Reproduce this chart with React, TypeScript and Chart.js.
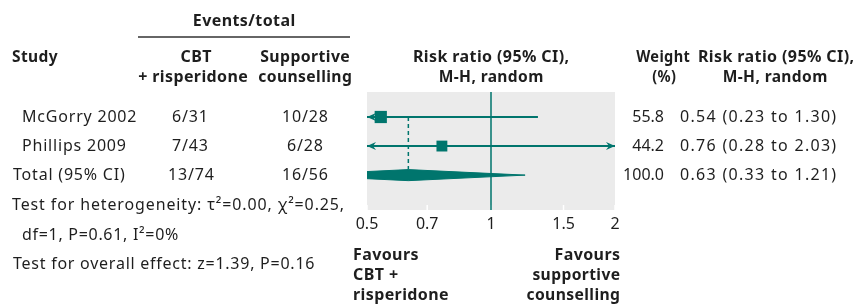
import React, { useEffect, useRef } from "react";
import { Chart, registerables } from "chart.js";

Chart.register(...registerables);

// ---- data ----
const STUDIES = ["McGorry 2002", "Phillips 2009"];
const CBT_EVENTS = ["6/31", "7/43"];
const SUP_EVENTS = ["10/28", "6/28"];
const RR = [0.54, 0.76];
const RR_LO = [0.23, 0.28];
const RR_HI = [1.3, 2.03];
const WEIGHTS = [55.8, 44.2];
const TOTAL_LABEL = "Total (95% CI)";
const TOTAL_CBT = "13/74";
const TOTAL_SUP = "16/56";
const TOTAL_RR = 0.63;
const TOTAL_LO = 0.33;
const TOTAL_HI = 1.21;
const TOTAL_WEIGHT = "100.0";
const X_TICKS = [0.5, 0.7, 1, 1.5, 2];

const TEAL = "#00756d";
const GRAY = "#ebebeb";
const TXT = "#1e1e1e";
const FONT = "'Noto Sans', sans-serif";

const fmt = (v: number) => v.toFixed(2);

export default function App() {
  const ref = useRef<HTMLCanvasElement | null>(null);

  useEffect(() => {
    document.body.style.margin = "0";
    const canvas = ref.current;
    if (!canvas) return;

    const rows = STUDIES.map((_, i) => i + 1);
    const totalRow = STUDIES.length + 1;
    const diamondHalf = 0.19;

    const ciSets = STUDIES.map((s, i) => ({
      label: s + " CI",
      data: [
        { x: RR_LO[i], y: rows[i] },
        { x: RR_HI[i], y: rows[i] },
      ],
      showLine: true,
      borderColor: TEAL,
      borderWidth: 2,
      pointRadius: 0,
    }));
    const squareSets = STUDIES.map((s, i) => ({
      label: s,
      data: [{ x: RR[i], y: rows[i] }],
      pointStyle: "rect",
      pointRadius: 4 + WEIGHTS[i] / 12,
      backgroundColor: TEAL,
      borderColor: TEAL,
      borderWidth: 0,
      showLine: false,
    }));

    const bgPlugin = {
      id: "bg",
      beforeDraw(chart: any) {
        const { ctx, chartArea: a } = chart;
        ctx.save();
        ctx.fillStyle = GRAY;
        ctx.fillRect(a.left, a.top, a.right - a.left, a.bottom - a.top);
        ctx.strokeStyle = "#ffffff";
        ctx.lineWidth = 1.5;
        const xs = chart.scales.x;
        X_TICKS.forEach((t) => {
          const px = xs.getPixelForValue(t);
          ctx.beginPath();
          ctx.moveTo(px, a.bottom - 5);
          ctx.lineTo(px, a.bottom);
          ctx.stroke();
        });
        ctx.restore();
      },
    };

    const arrowPlugin = {
      id: "arrows",
      afterDatasetsDraw(chart: any) {
        const { ctx, chartArea: a } = chart;
        const xs = chart.scales.x;
        const ys = chart.scales.y;
        const min = xs.min;
        const max = xs.max;
        ctx.save();
        ctx.fillStyle = TEAL;
        const arrow = (px: number, py: number, dir: number) => {
          ctx.beginPath();
          ctx.moveTo(px, py);
          ctx.lineTo(px - dir * 9, py - 4);
          ctx.lineTo(px - dir * 6, py);
          ctx.lineTo(px - dir * 9, py + 4);
          ctx.closePath();
          ctx.fill();
        };
        STUDIES.forEach((_, i) => {
          const py = ys.getPixelForValue(rows[i]);
          if (RR_LO[i] < min) arrow(a.left, py, -1);
          if (RR_HI[i] > max) arrow(a.right, py, 1);
        });
        ctx.restore();
      },
    };

    const textPlugin = {
      id: "texts",
      afterDraw(chart: any) {
        const { ctx } = chart;
        const ys = chart.scales.y;
        ctx.save();
        ctx.fillStyle = TXT;
        ctx.textBaseline = "middle";
        const t = (
          s: string,
          x: number,
          y: number,
          align: CanvasTextAlign = "left",
          bold = false,
          maxW?: number,
          spacing?: number
        ) => {
          ctx.font = `${bold ? "bold " : ""}16px ${FONT}`;
          const sp = spacing ?? (bold ? 0.4 : 0.8);
          (ctx as any).letterSpacing = `${sp}px`;
          ctx.textAlign = align;
          const dx = align === "center" ? sp / 2 : align === "right" ? sp : 0;
          if (maxW) ctx.fillText(s, x + dx, y, maxW);
          else ctx.fillText(s, x + dx, y);
        };
        t("Events/total", 244, 21, "center", true, 104);
        ctx.strokeStyle = "#333";
        ctx.lineWidth = 1.5;
        ctx.beginPath();
        ctx.moveTo(138, 37);
        ctx.lineTo(350, 37);
        ctx.stroke();
        t("Study", 12, 57, "left", true, 46);
        t("CBT", 196, 57, "center", true, 40);
        t("+ risperidone", 193, 77, "center", true, 110);
        t("Supportive", 305, 57, "center", true, 90);
        t("counselling", 305, 77, "center", true, 94);
        t("Risk ratio (95% CI),", 491, 57, "center", true, 158);
        t("M-H, random", 491, 77, "center", true, 105);
        t("Weight", 663, 57, "center", true, 54);
        t("(%)", 664, 77, "center", true, 24);
        t("Risk ratio (95% CI),", 776, 57, "center", true, 157);
        t("M-H, random", 775, 77, "center", true, 105);

        STUDIES.forEach((s, i) => {
          const py = ys.getPixelForValue(rows[i]);
          t(s, 22, py);
          t(CBT_EVENTS[i], 190, py, "center");
          t(SUP_EVENTS[i], 305, py, "center");
          t(WEIGHTS[i].toFixed(1), 664, py, "right", false, undefined, 0);
          t(`${fmt(RR[i])} (${fmt(RR_LO[i])} to ${fmt(RR_HI[i])})`, 680, py, "left", false, 158, 1.3);
        });
        const ty = ys.getPixelForValue(totalRow);
        t(TOTAL_LABEL, 13, ty);
        t(TOTAL_CBT, 191, ty, "center");
        t(TOTAL_SUP, 305, ty, "center");
        t(TOTAL_WEIGHT, 664, ty, "right", false, undefined, 0);
        t(`${fmt(TOTAL_RR)} (${fmt(TOTAL_LO)} to ${fmt(TOTAL_HI)})`, 680, ty, "left", false, 158, 1.3);

        t("Test for heterogeneity: \u03c4\u00b2=0.00, \u03c7\u00b2=0.25,", 12, 205, "left", false, 333, 0.9);
        t("df=1, P=0.61, I\u00b2=0%", 22, 235, "left", false, undefined, 0.7);
        t("Test for overall effect: z=1.39, P=0.16", 13, 264, "left", false, undefined, 0.75);

        t("Favours", 353, 255, "left", true, 66);
        t("CBT +", 353, 275, "left", true, 48);
        t("risperidone", 353, 295, "left", true, 96);
        t("Favours", 620, 255, "right", true, 66);
        t("supportive", 620, 275, "right", true, 88);
        t("counselling", 620, 295, "right", true, 94);
        ctx.restore();
      },
    };

    const chart = new Chart(canvas, {
      type: "scatter",
      data: {
        datasets: [
          {
            label: "null",
            data: [
              { x: 1, y: 0 },
              { x: 1, y: 5 },
            ],
            showLine: true,
            borderColor: TEAL,
            borderWidth: 1.5,
            pointRadius: 0,
          },
          {
            label: "pooled",
            data: [
              { x: TOTAL_RR, y: rows[0] },
              { x: TOTAL_RR, y: totalRow - diamondHalf },
            ],
            showLine: true,
            borderColor: TEAL,
            borderWidth: 1.5,
            borderDash: [4, 3],
            pointRadius: 0,
          },
          ...ciSets,
          ...squareSets,
          {
            label: "diamond",
            data: [
              { x: TOTAL_LO, y: totalRow },
              { x: TOTAL_RR, y: totalRow - diamondHalf },
              { x: TOTAL_HI, y: totalRow },
              { x: TOTAL_RR, y: totalRow + diamondHalf },
              { x: TOTAL_LO, y: totalRow },
            ],
            showLine: true,
            fill: "shape",
            backgroundColor: TEAL,
            borderColor: TEAL,
            borderWidth: 1,
            pointRadius: 0,
            tension: 0,
          },
        ] as any,
      },
      options: {
        animation: false,
        responsive: false,
        events: [],
        layout: { padding: { left: 367, right: 241, top: 92, bottom: 66 } },
        plugins: { legend: { display: false }, tooltip: { enabled: false } },
        scales: {
          x: {
            type: "logarithmic",
            min: 0.5,
            max: 2,
            grid: { display: false, drawTicks: false },
            border: { display: false },
            afterBuildTicks: (scale: any) => {
              scale.ticks = X_TICKS.map((v) => ({ value: v }));
            },
            afterFit: (scale: any) => {
              scale.height = 30;
            },
            ticks: {
              autoSkip: false,
              maxRotation: 0,
              padding: 5,
              color: TXT,
              font: { family: FONT, size: 16 },
              callback: (v: any) => String(v),
            },
          },
          y: {
            type: "linear",
            min: 0.14,
            max: 4.2,
            reverse: true,
            display: false,
          },
        },
      } as any,
      plugins: [bgPlugin, arrowPlugin, textPlugin],
    });

    return () => chart.destroy();
  }, []);

  return (
    <div style={{ width: 856, height: 306 }}>
      <canvas ref={ref} width={856} height={306} style={{ display: "block" }} />
    </div>
  );
}
